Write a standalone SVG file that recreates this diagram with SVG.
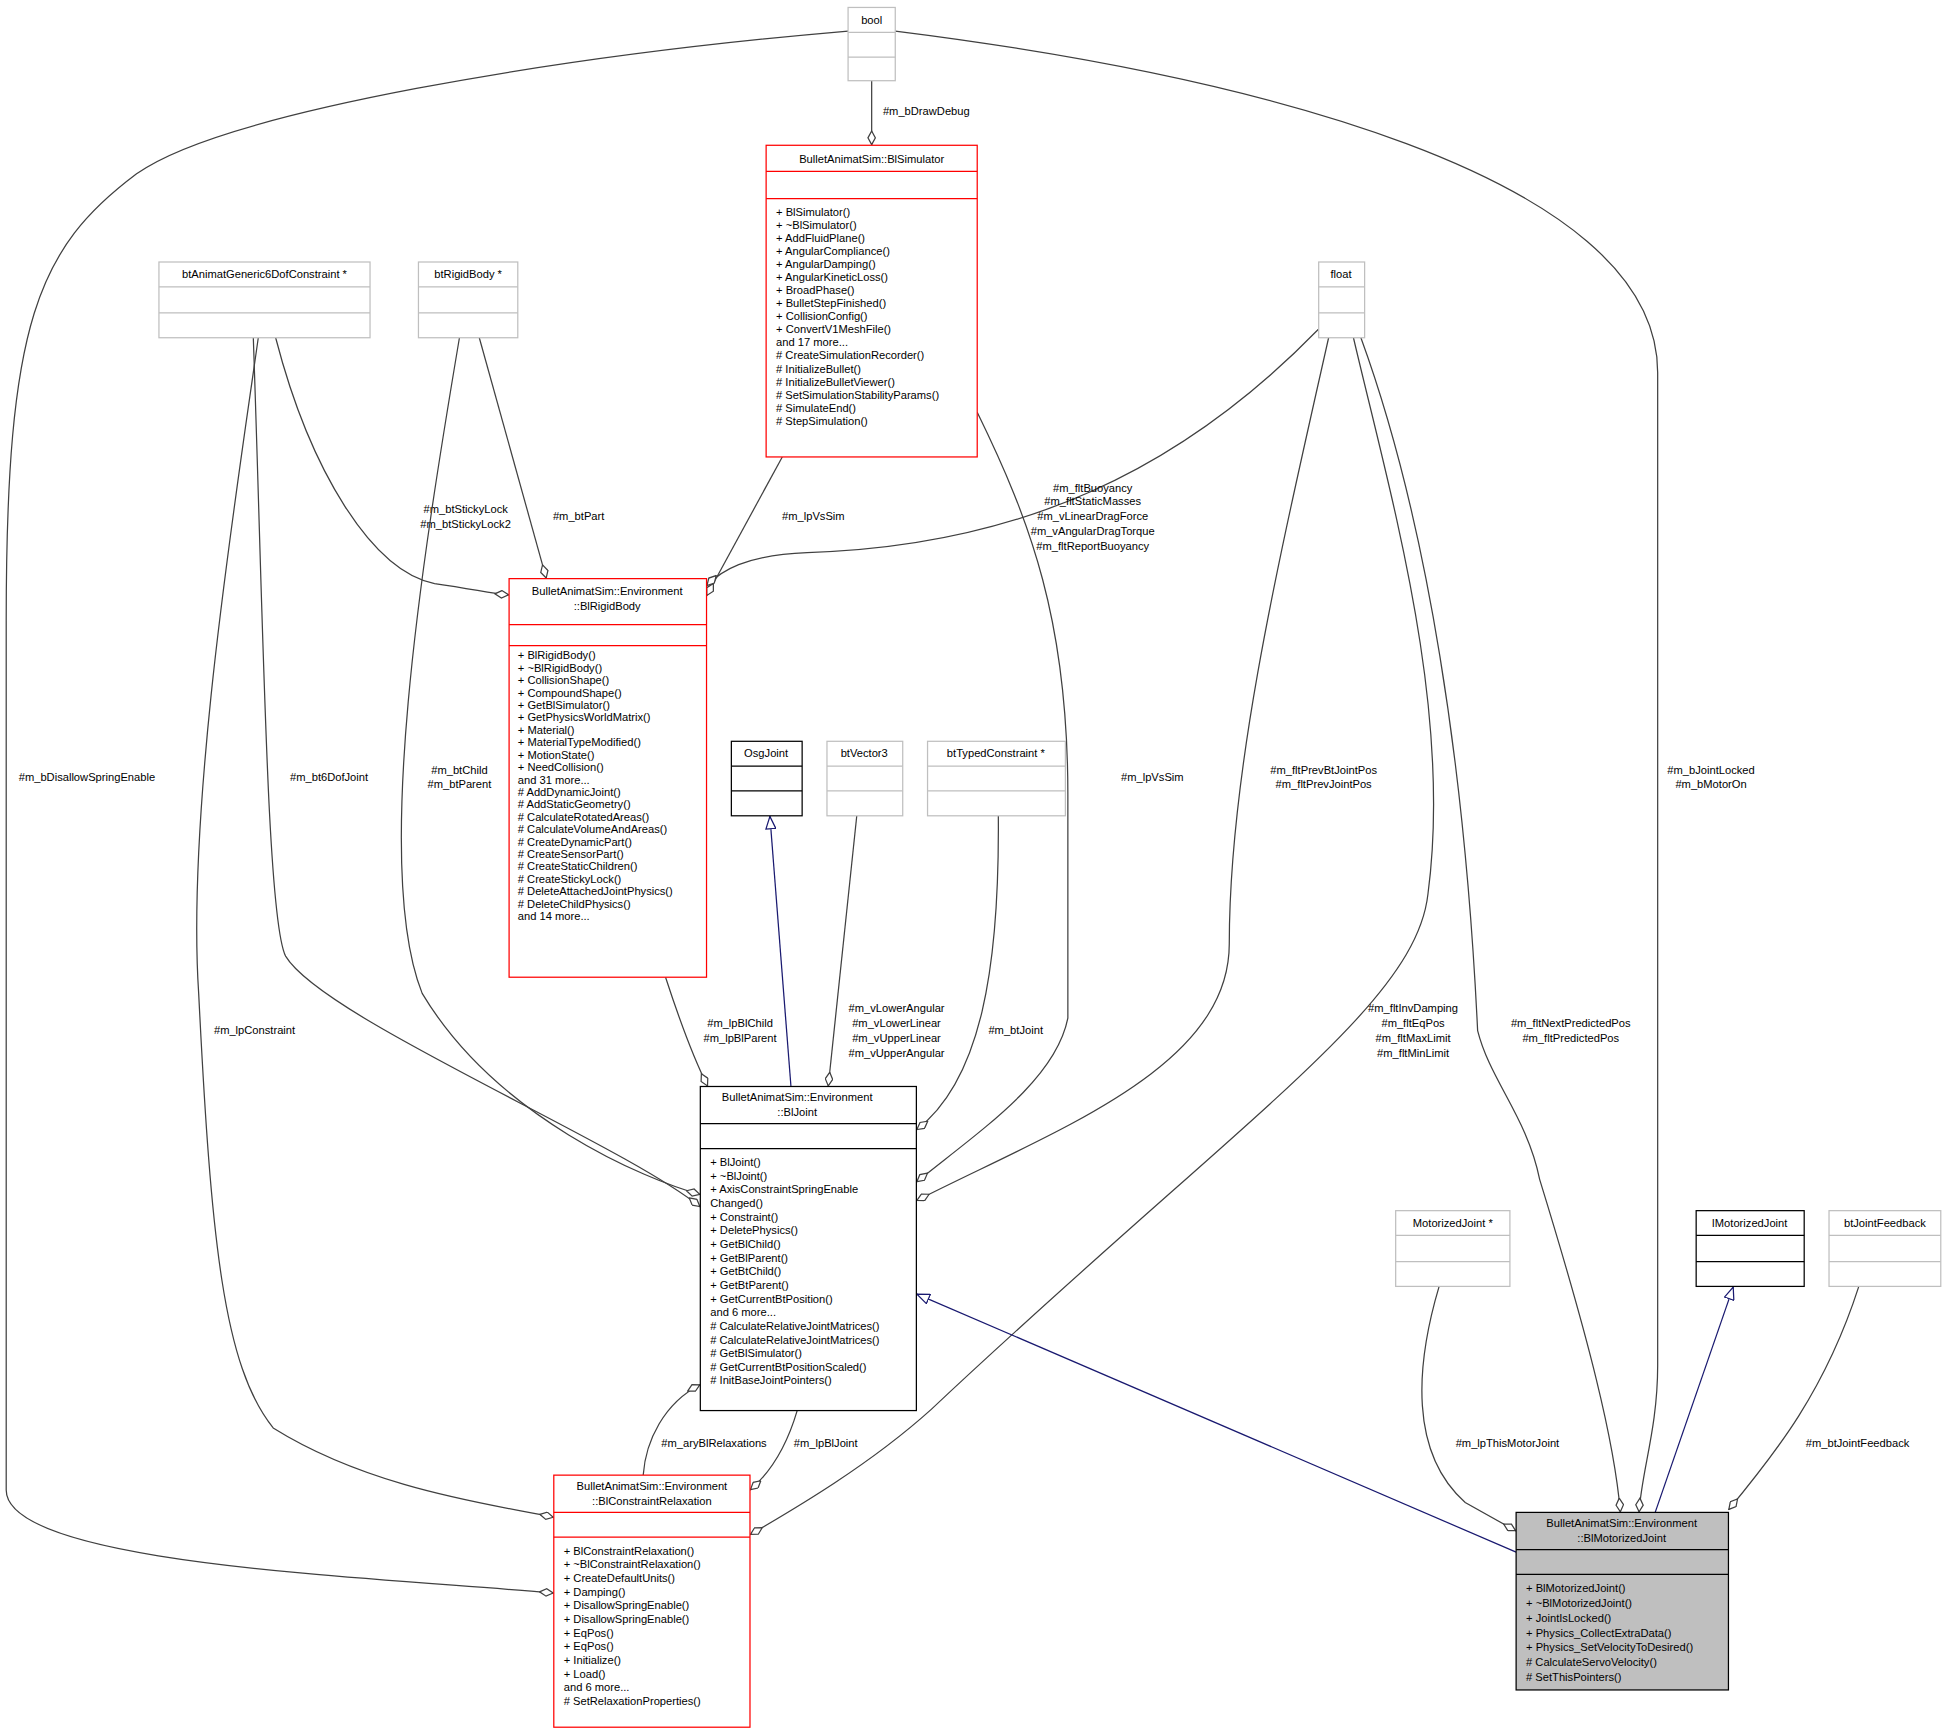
<svg xmlns="http://www.w3.org/2000/svg" width="1947" height="1733" viewBox="0 0 1947 1733">
<style>
text{font-family:"Liberation Sans",Arial,sans-serif;font-size:9px;fill:#000}
.c{text-anchor:middle}
.g{fill:#fff;stroke:#bfbfbf;stroke-width:1}
.k{fill:#fff;stroke:#000;stroke-width:1}
.r{fill:#fff;stroke:#ff0000;stroke-width:1}
.m{fill:#bfbfbf;stroke:#000;stroke-width:1}
.e{fill:none;stroke:#404040;stroke-width:1}
.i{fill:none;stroke:#191970;stroke-width:1}
</style>
<defs>
<marker id="d" viewBox="0 0 12 7" refX="12" refY="3.5" markerWidth="12" markerHeight="7" markerUnits="userSpaceOnUse" orient="auto"><path d="M0.5,3.5 L6,0.5 L11.5,3.5 L6,6.5 Z" fill="#fff" stroke="#404040"/></marker>
<marker id="t" viewBox="0 0 11 9" refX="11" refY="4.5" markerWidth="11" markerHeight="9" markerUnits="userSpaceOnUse" orient="auto"><path d="M0.5,0.5 L10.5,4.5 L0.5,8.5 Z" fill="#fff" stroke="#191970"/></marker>
</defs>
<rect width="1947" height="1733" fill="#fff"/>
<g transform="scale(1.2417)">
<g id="connectors">
<path class="e" marker-end="url(#d)" d="M683,25 C450,45 180,90 110,140 C30,200 5,260 5,500 L5,1200 C5,1260 300,1270 446,1283"/>
<text x="70" y="629" class="c">#m_bDisallowSpringEnable</text>
<path class="e" marker-end="url(#d)" d="M721,25 C1000,60 1335,140 1335,300 L1335,1100 C1335,1150 1322,1185 1320,1218"/>
<text x="1378" y="623" class="c">#m_bJointLocked</text><text x="1378" y="635" class="c">#m_bMotorOn</text>
<path class="e" marker-end="url(#d)" d="M702,65 L702,117"/>
<text x="746" y="93" class="c">#m_bDrawDebug</text>
<path class="e" marker-end="url(#d)" d="M222,272 C250,380 300,460 350,470 C385,475 395,478 410,479"/>
<text x="375" y="413" class="c">#m_btStickyLock</text><text x="375" y="425" class="c">#m_btStickyLock2</text>
<path class="e" marker-end="url(#d)" d="M204,272 C212,500 215,740 230,770 C260,820 500,920 564,972"/>
<text x="265" y="629" class="c">#m_bt6DofJoint</text>
<path class="e" marker-end="url(#d)" d="M208,272 C190,400 150,650 160,800 C170,1000 180,1100 220,1150 C300,1200 400,1212 446,1222"/>
<text x="205" y="833" class="c">#m_lpConstraint</text>
<path class="e" marker-end="url(#d)" d="M386,272 L440,466"/>
<text x="466" y="419" class="c">#m_btPart</text>
<path class="e" marker-end="url(#d)" d="M370,272 C340,450 300,700 340,800 C400,900 520,950 564,962"/>
<text x="370" y="623" class="c">#m_btChild</text><text x="370" y="635" class="c">#m_btParent</text>
<path class="e" marker-end="url(#d)" d="M630,368 L569,480"/>
<text x="655" y="419" class="c">#m_lpVsSim</text>
<path class="e" marker-end="url(#d)" d="M787,332 C830,420 860,500 860,640 L860,820 C850,870 790,910 738,952"/>
<text x="928" y="629" class="c">#m_lpVsSim</text>
<path class="e" marker-end="url(#d)" d="M1062,265 C950,380 820,440 650,445 C600,447 580,460 569,472"/>
<text x="880" y="396" class="c">#m_fltBuoyancy</text><text x="880" y="407" class="c">#m_fltStaticMasses</text><text x="880" y="419" class="c">#m_vLinearDragForce</text><text x="880" y="431" class="c">#m_vAngularDragTorque</text><text x="880" y="443" class="c">#m_fltReportBuoyancy</text>
<path class="e" marker-end="url(#d)" d="M1070,272 C1030,450 990,620 990,760 C990,860 850,910 738,967"/>
<text x="1066" y="623" class="c">#m_fltPrevBtJointPos</text><text x="1066" y="635" class="c">#m_fltPrevJointPos</text>
<path class="e" marker-end="url(#d)" d="M1090,272 C1120,400 1170,570 1150,720 C1140,810 1000,900 750,1135 C700,1180 640,1215 604,1236"/>
<text x="1138" y="815" class="c">#m_fltInvDamping</text><text x="1138" y="827" class="c">#m_fltEqPos</text><text x="1138" y="839" class="c">#m_fltMaxLimit</text><text x="1138" y="851" class="c">#m_fltMinLimit</text>
<path class="e" marker-end="url(#d)" d="M1096,272 C1150,420 1180,620 1190,830 C1200,870 1230,900 1240,950 C1280,1080 1300,1160 1305,1218"/>
<text x="1265" y="827" class="c">#m_fltNextPredictedPos</text><text x="1265" y="839" class="c">#m_fltPredictedPos</text>
<path class="e" marker-end="url(#d)" d="M690,657 L667,875"/>
<text x="722" y="815" class="c">#m_vLowerAngular</text><text x="722" y="827" class="c">#m_vLowerLinear</text><text x="722" y="839" class="c">#m_vUpperLinear</text><text x="722" y="851" class="c">#m_vUpperAngular</text>
<path class="e" marker-end="url(#d)" d="M804,657 C805,780 790,870 738,910"/>
<text x="818" y="833" class="c">#m_btJoint</text>
<path class="i" marker-end="url(#t)" d="M637,875 L620,657"/>
<path class="e" marker-end="url(#d)" d="M536,787 C550,830 560,855 570,875"/>
<text x="596" y="827" class="c">#m_lpBlChild</text><text x="596" y="839" class="c">#m_lpBlParent</text>
<path class="e" marker-end="url(#d)" d="M518,1188 C520,1160 535,1130 564,1115"/>
<text x="575" y="1165" class="c">#m_aryBlRelaxations</text>
<path class="e" marker-end="url(#d)" d="M642,1136 C632,1170 618,1188 604,1200"/>
<text x="665" y="1165" class="c">#m_lpBlJoint</text>
<path class="i" marker-end="url(#t)" d="M1221,1250 L738,1042"/>
<path class="e" marker-end="url(#d)" d="M1159,1036 C1140,1100 1135,1170 1180,1210 L1221,1233"/>
<text x="1214" y="1165" class="c">#m_lpThisMotorJoint</text>
<path class="i" marker-end="url(#t)" d="M1333,1218 L1396,1036"/>
<path class="e" marker-end="url(#d)" d="M1497,1036 C1470,1120 1430,1170 1392,1216"/>
<text x="1496" y="1165" class="c">#m_btJointFeedback</text>
</g>
<g id="bool"><rect class="g" x="683" y="6" width="38" height="59"/><path class="g" d="M683,26 H721 M683,46 H721"/><text x="702" y="19" class="c">bool</text></g>
<g id="bt6dof"><rect class="g" x="128" y="211" width="170" height="61"/><path class="g" d="M128,231 H298 M128,252 H298"/><text x="213" y="224" class="c">btAnimatGeneric6DofConstraint *</text></g>
<g id="btRigidBody"><rect class="g" x="337" y="211" width="80" height="61"/><path class="g" d="M337,231 H417 M337,252 H417"/><text x="377" y="224" class="c">btRigidBody *</text></g>
<g id="float"><rect class="g" x="1062" y="211" width="37" height="61"/><path class="g" d="M1062,231 H1099 M1062,252 H1099"/><text x="1080" y="224" class="c">float</text></g>
<g id="BlSimulator"><rect class="r" x="617" y="117" width="170" height="251"/><path class="r" d="M617,138 H787 M617,160 H787"/>
<text x="702" y="131" class="c">BulletAnimatSim::BlSimulator</text>
<text x="625" y="174">+ BlSimulator()</text><text x="625" y="184.5">+ ~BlSimulator()</text><text x="625" y="195">+ AddFluidPlane()</text><text x="625" y="205.5">+ AngularCompliance()</text><text x="625" y="216">+ AngularDamping()</text><text x="625" y="226.5">+ AngularKineticLoss()</text><text x="625" y="237">+ BroadPhase()</text><text x="625" y="247.5">+ BulletStepFinished()</text><text x="625" y="258">+ CollisionConfig()</text><text x="625" y="268.5">+ ConvertV1MeshFile()</text><text x="625" y="279">and 17 more...</text><text x="625" y="289.5"># CreateSimulationRecorder()</text><text x="625" y="300"># InitializeBullet()</text><text x="625" y="310.5"># InitializeBulletViewer()</text><text x="625" y="321"># SetSimulationStabilityParams()</text><text x="625" y="331.5"># SimulateEnd()</text><text x="625" y="342"># StepSimulation()</text>
</g>
<g id="BlRigidBody"><rect class="r" x="410" y="466" width="159" height="321"/><path class="r" d="M410,503 H569 M410,520 H569"/>
<text x="489" y="479" class="c">BulletAnimatSim::Environment</text><text x="489" y="491" class="c">::BlRigidBody</text>
<text x="417" y="531">+ BlRigidBody()</text><text x="417" y="541">+ ~BlRigidBody()</text><text x="417" y="551">+ CollisionShape()</text><text x="417" y="561">+ CompoundShape()</text><text x="417" y="571">+ GetBlSimulator()</text><text x="417" y="581">+ GetPhysicsWorldMatrix()</text><text x="417" y="591">+ Material()</text><text x="417" y="601">+ MaterialTypeModified()</text><text x="417" y="611">+ MotionState()</text><text x="417" y="621">+ NeedCollision()</text><text x="417" y="631">and 31 more...</text><text x="417" y="641"># AddDynamicJoint()</text><text x="417" y="651"># AddStaticGeometry()</text><text x="417" y="661"># CalculateRotatedAreas()</text><text x="417" y="671"># CalculateVolumeAndAreas()</text><text x="417" y="681"># CreateDynamicPart()</text><text x="417" y="691"># CreateSensorPart()</text><text x="417" y="701"># CreateStaticChildren()</text><text x="417" y="711"># CreateStickyLock()</text><text x="417" y="721"># DeleteAttachedJointPhysics()</text><text x="417" y="731"># DeleteChildPhysics()</text><text x="417" y="741">and 14 more...</text>
</g>
<g id="OsgJoint"><rect class="k" x="589" y="597" width="57" height="60"/><path class="k" d="M589,617 H646 M589,637 H646"/><text x="617" y="610" class="c">OsgJoint</text></g>
<g id="btVector3"><rect class="g" x="666" y="597" width="61" height="60"/><path class="g" d="M666,617 H727 M666,637 H727"/><text x="696" y="610" class="c">btVector3</text></g>
<g id="btTypedConstraint"><rect class="g" x="747" y="597" width="111" height="60"/><path class="g" d="M747,617 H858 M747,637 H858"/><text x="802" y="610" class="c">btTypedConstraint *</text></g>
<g id="BlJoint"><rect class="k" x="564" y="875" width="174" height="261"/><path class="k" d="M564,905 H738 M564,925 H738"/>
<text x="642" y="887" class="c">BulletAnimatSim::Environment</text><text x="642" y="899" class="c">::BlJoint</text>
<text x="572" y="939">+ BlJoint()</text><text x="572" y="950">+ ~BlJoint()</text><text x="572" y="961">+ AxisConstraintSpringEnable</text><text x="572" y="972">Changed()</text><text x="572" y="983">+ Constraint()</text><text x="572" y="994">+ DeletePhysics()</text><text x="572" y="1005">+ GetBlChild()</text><text x="572" y="1016">+ GetBlParent()</text><text x="572" y="1027">+ GetBtChild()</text><text x="572" y="1038">+ GetBtParent()</text><text x="572" y="1049">+ GetCurrentBtPosition()</text><text x="572" y="1060">and 6 more...</text><text x="572" y="1071"># CalculateRelativeJointMatrices()</text><text x="572" y="1082"># CalculateRelativeJointMatrices()</text><text x="572" y="1093"># GetBlSimulator()</text><text x="572" y="1104"># GetCurrentBtPositionScaled()</text><text x="572" y="1115"># InitBaseJointPointers()</text>
</g>
<g id="BlConstraintRelaxation"><rect class="r" x="446" y="1188" width="158" height="203"/><path class="r" d="M446,1218 H604 M446,1238 H604"/>
<text x="525" y="1200" class="c">BulletAnimatSim::Environment</text><text x="525" y="1212" class="c">::BlConstraintRelaxation</text>
<text x="454" y="1252">+ BlConstraintRelaxation()</text><text x="454" y="1263">+ ~BlConstraintRelaxation()</text><text x="454" y="1274">+ CreateDefaultUnits()</text><text x="454" y="1285">+ Damping()</text><text x="454" y="1296">+ DisallowSpringEnable()</text><text x="454" y="1307">+ DisallowSpringEnable()</text><text x="454" y="1318">+ EqPos()</text><text x="454" y="1329">+ EqPos()</text><text x="454" y="1340">+ Initialize()</text><text x="454" y="1351">+ Load()</text><text x="454" y="1362">and 6 more...</text><text x="454" y="1373"># SetRelaxationProperties()</text>
</g>
<g id="MotorizedJoint"><rect class="g" x="1124" y="975" width="92" height="61"/><path class="g" d="M1124,995 H1216 M1124,1016 H1216"/><text x="1170" y="988" class="c">MotorizedJoint *</text></g>
<g id="IMotorizedJoint"><rect class="k" x="1366" y="975" width="87" height="61"/><path class="k" d="M1366,995 H1453 M1366,1016 H1453"/><text x="1409" y="988" class="c">IMotorizedJoint</text></g>
<g id="btJointFeedback"><rect class="g" x="1473" y="975" width="90" height="61"/><path class="g" d="M1473,995 H1563 M1473,1016 H1563"/><text x="1518" y="988" class="c">btJointFeedback</text></g>
<g id="BlMotorizedJoint"><rect class="m" x="1221" y="1218" width="171" height="143"/><path class="m" d="M1221,1248 H1392 M1221,1268 H1392"/>
<text x="1306" y="1230" class="c">BulletAnimatSim::Environment</text><text x="1306" y="1242" class="c">::BlMotorizedJoint</text>
<text x="1229" y="1282">+ BlMotorizedJoint()</text><text x="1229" y="1294">+ ~BlMotorizedJoint()</text><text x="1229" y="1306">+ JointIsLocked()</text><text x="1229" y="1318">+ Physics_CollectExtraData()</text><text x="1229" y="1330">+ Physics_SetVelocityToDesired()</text><text x="1229" y="1342"># CalculateServoVelocity()</text><text x="1229" y="1354"># SetThisPointers()</text>
</g>
</g>
</svg>
